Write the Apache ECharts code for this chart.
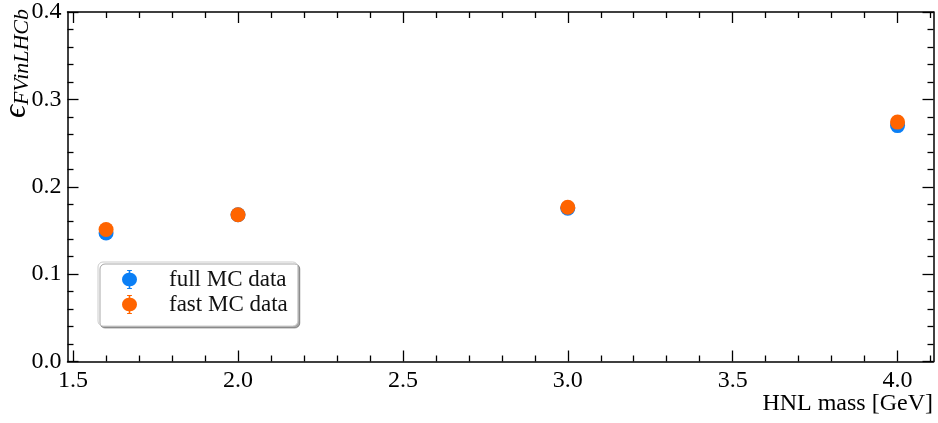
<!DOCTYPE html>
<html>
<head>
<meta charset="utf-8">
<script src="https://cdn.jsdelivr.net/npm/echarts@6/dist/echarts.min.js"></script>
<style>html,body{margin:0;padding:0;background:#fff}#c{width:938px;height:423px}</style>
</head>
<body>
<div id="c"></div>
<script>
const masses = [1.6, 2.0, 3.0, 4.0];
const fullMC = [0.147, 0.168, 0.1755, 0.270];
const fastMC = [0.151, 0.168, 0.1765, 0.274];
const xMajorTicks = [1.5, 2.0, 2.5, 3.0, 3.5, 4.0];
const xMinorTicks = [1.6, 1.7, 1.8, 1.9, 2.1, 2.2, 2.3, 2.4, 2.6, 2.7, 2.8, 2.9, 3.1, 3.2, 3.3, 3.4, 3.6, 3.7, 3.8, 3.9, 4.1];
const seriesNames = ['full MC data', 'fast MC data'];
const xLabel = 'HNL mass [GeV]';

const FONT = 'Liberation Serif';
const blue = '#0b7ff5';
const orange = '#ff6400';
const XMIN = 1.483, XMAX = 4.109;

function xAx(pos, major, showLabel, showLine) {
  return {
    type: 'value', position: pos, min: XMIN, max: XMAX,
    axisLine: {show: showLine, onZero: false, lineStyle: {color: '#000', width: 1.5}},
    axisTick: {show: true, inside: true, length: major ? 11 : 6,
      customValues: major ? xMajorTicks : xMinorTicks,
      lineStyle: {color: '#000', width: 1.3}},
    axisLabel: {show: showLabel, customValues: xMajorTicks, margin: 7,
      formatter: v => Number(v).toFixed(1),
      fontFamily: FONT, fontSize: 24, color: '#000'},
    splitLine: {show: false}
  };
}
function yAx(pos, showLabel) {
  return {
    type: 'value', position: pos, min: 0, max: 0.4, interval: 0.1,
    axisLine: {show: true, onZero: false, lineStyle: {color: '#000', width: 1.5}},
    axisTick: {show: true, inside: true, length: 11, lineStyle: {color: '#000', width: 1.3}},
    minorTick: {show: true, splitNumber: 5, length: 6, lineStyle: {color: '#000', width: 1.3}},
    axisLabel: {show: showLabel, margin: 6, formatter: v => Number(v).toFixed(1),
      fontFamily: FONT, fontSize: 24, color: '#000'},
    splitLine: {show: false}
  };
}

const legendIcon = 'path://M5,0 L11,0 L11,1.5 L9,1.5 L9,3.6 A8,8 0 0,1 9,20.4 L9,22.5 L11,22.5 L11,24 L5,24 L5,22.5 L7,22.5 L7,20.4 A8,8 0 0,1 7,3.6 L7,1.5 L5,1.5 Z';

const chart = echarts.init(document.getElementById('c'), null, {renderer: 'canvas'});
chart.setOption({
  animation: false,
  grid: {left: 67.5, right: 4.5, top: 12, bottom: 61.5, containLabel: false},
  xAxis: [xAx('bottom', true, true, true), xAx('bottom', false, false, false),
          xAx('top', true, false, true), xAx('top', false, false, false)],
  yAxis: [yAx('left', true), yAx('right', false)],
  legend: {
    orient: 'vertical', left: 98, top: 262,
    padding: [6, 10, 10, 24], itemGap: 2,
    itemWidth: 15, itemHeight: 24,
    backgroundColor: '#fff', borderColor: '#ccc', borderWidth: 1, borderRadius: 5,
    shadowColor: 'rgba(0,0,0,0.35)', shadowBlur: 0, shadowOffsetX: 2, shadowOffsetY: 2,
    textStyle: {fontFamily: FONT, fontSize: 23, color: '#111', padding: [0, 0, 0, 27]},
    data: [{name: seriesNames[0], icon: legendIcon, itemStyle: {color: blue}},
           {name: seriesNames[1], icon: legendIcon, itemStyle: {color: orange}}]
  },
  series: [
    {name: seriesNames[0], type: 'scatter', xAxisIndex: 0, yAxisIndex: 0,
     symbolSize: 15, itemStyle: {color: blue, opacity: 1},
     data: masses.map((m, i) => [m, fullMC[i]])},
    {name: seriesNames[1], type: 'scatter', xAxisIndex: 0, yAxisIndex: 0,
     symbolSize: 15, itemStyle: {color: orange, opacity: 1},
     data: masses.map((m, i) => [m, fastMC[i]])}
  ],
  graphic: [
    {type: 'text', right: 5, top: 392,
     style: {text: xLabel, fontFamily: FONT, fontSize: 24, fill: '#000'}},
    {type: 'text', x: 17, y: 118, rotation: Math.PI / 2,
     style: {
       text: '{e|ϵ}{s|FVinLHCb}',
       textAlign: 'left', textVerticalAlign: 'middle',
       rich: {
         e: {fontFamily: FONT, fontSize: 32, fontStyle: 'italic', fill: '#000', verticalAlign: 'top'},
         s: {fontFamily: FONT, fontSize: 22, fontStyle: 'italic', fill: '#000', verticalAlign: 'bottom', padding: [8, 0, 0, 0]}
       }
     }}
  ]
});
</script>
</body>
</html>
